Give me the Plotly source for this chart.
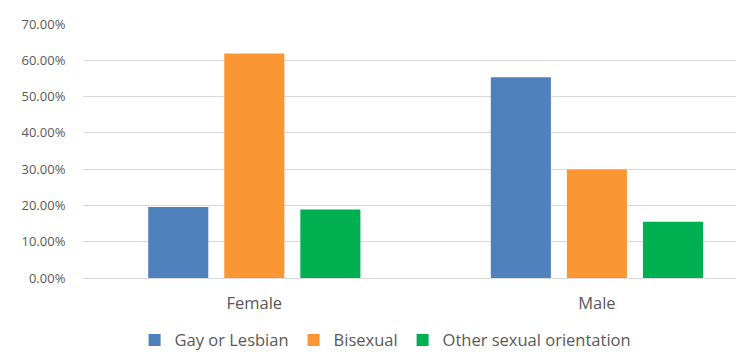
import plotly.graph_objects as go

# Share of respondents by sexual orientation, split by gender
genders = ["Female", "Male"]
series_names = ["Gay or Lesbian", "Bisexual", "Other sexual orientation"]
gay_lesbian = [0.196, 0.553]
bisexual = [0.619, 0.299]
other_orientation = [0.189, 0.155]
y_ticks = [0.0, 0.1, 0.2, 0.3, 0.4, 0.5, 0.6, 0.7]

colors = ["#4f81bd", "#fb9634", "#00b050"]
series_values = [gay_lesbian, bisexual, other_orientation]

fig = go.Figure()
for name, vals, col in zip(series_names, series_values, colors):
    fig.add_trace(go.Bar(
        x=genders, y=vals, name=name,
        marker=dict(color=col, line=dict(width=0)),
    ))

font_family = "Open Sans, Liberation Sans, sans-serif"
text_color = "#595959"

fig.update_layout(
    width=736, height=358,
    margin=dict(l=83, r=0, t=24, b=73),
    paper_bgcolor="white", plot_bgcolor="white",
    barmode="group", bargap=0.334, bargroupgap=0.21,
    font=dict(family=font_family, size=13, color=text_color),
    showlegend=True,
    legend=dict(
        orientation="h", x=0.079, xanchor="left",
        y=-0.245, yanchor="middle",
        font=dict(size=16.5, color=text_color),
        traceorder="normal",
    ),
    xaxis=dict(
        type="category", range=[-0.5, 1.406],
        showgrid=False, showline=True, linecolor="#d9d9d9", linewidth=1,
        ticks="", ticklabelstandoff=10,
        tickfont=dict(size=16.5, color=text_color),
    ),
    yaxis=dict(
        range=[0, 0.7], tickvals=y_ticks, tickformat=".2%",
        showgrid=True, gridcolor="#d9d9d9", gridwidth=1,
        zeroline=False, showline=False,
        ticks="outside", ticklen=14, tickcolor="rgba(0,0,0,0)",
        tickfont=dict(size=13, color=text_color),
    ),
)

fig.write_html("out.html")
